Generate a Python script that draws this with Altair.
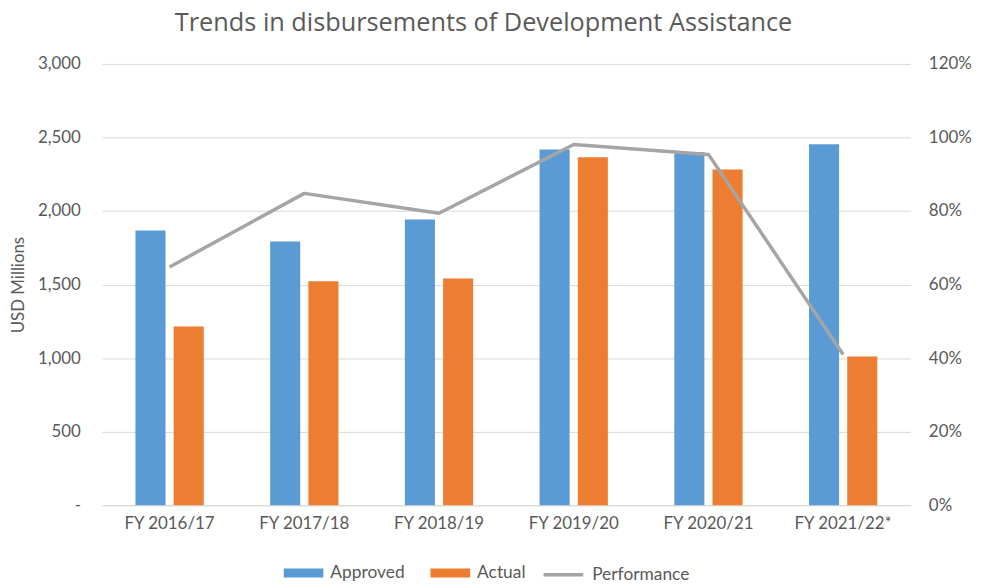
import altair as alt
import pandas as pd

years = ["FY 2016/17", "FY 2017/18", "FY 2018/19", "FY 2019/20", "FY 2020/21", "FY 2021/22*"]
approved = [1867, 1793, 1942, 2418, 2400, 2454]
actual = [1216, 1522, 1542, 2366, 2283, 1011]
performance = [0.648, 0.848, 0.794, 0.981, 0.954, 0.410]
bar_series = ["Approved", "Actual"]
bar_colors = ["#5B9BD5", "#ED7D31"]
line_series = ["Performance"]
line_colors = ["#A5A5A5"]
left_ticks = [0, 500, 1000, 1500, 2000, 2500, 3000]
right_ticks = [0, 0.2, 0.4, 0.6, 0.8, 1.0, 1.2]

bars_df = pd.DataFrame({
    "Year": years * 2,
    "Series": ["Approved"] * len(years) + ["Actual"] * len(years),
    "Value": approved + actual,
})
line_df = pd.DataFrame({
    "Year": years,
    "Series": ["Performance"] * len(years),
    "Value": performance,
})

FONT = "Lato"
TXT = "#595959"
GRID = "#D9D9D9"

fill_legend = alt.Legend(
    title=None, orient="none", direction="horizontal", legendX=183, legendY=493,
    symbolType="M-1,-0.225H1V0.225H-1Z", symbolSize=1600, symbolStrokeWidth=0,
    symbolOpacity=1,
    labelFontSize=17.5, labelFont=FONT, labelColor=TXT,
    columnPadding=26, labelOffset=7,
)
stroke_legend = alt.Legend(
    title=None, orient="none", direction="horizontal", legendX=443, legendY=493,
    symbolType="stroke", symbolSize=1600, symbolStrokeWidth=3.5,
    labelFontSize=17.5, labelFont=FONT, labelColor=TXT, labelOffset=7,
)

x_enc = alt.X(
    "Year:N", sort=years,
    scale=alt.Scale(paddingInner=0.493, paddingOuter=0.2465),
    axis=alt.Axis(title=None, labelAngle=0, labelFontSize=17, labelFont=FONT,
                  labelColor=TXT, labelPadding=10, ticks=False, domainColor=GRID,
                  domainWidth=1, grid=False),
)

bars = alt.Chart(bars_df).mark_bar().encode(
    x=x_enc,
    xOffset=alt.XOffset("Series:N", sort=bar_series,
                        scale=alt.Scale(paddingInner=0.213, paddingOuter=0)),
    y=alt.Y("Value:Q", scale=alt.Scale(domain=[0, 3000], nice=False),
            axis=alt.Axis(title="USD Millions", values=left_ticks,
                          labelExpr="datum.value == 0 ? '-\u2007\u2007' : format(datum.value, ',')",
                          grid=True, gridColor=GRID, domain=False, ticks=False,
                          labelPadding=22, labelFontSize=17, labelFont=FONT, labelColor=TXT,
                          titleFont=FONT, titleFontSize=17, titleFontWeight="normal",
                          titleColor=TXT, titlePadding=10)),
    fill=alt.Fill("Series:N", scale=alt.Scale(domain=bar_series, range=bar_colors),
                  legend=fill_legend),
)

line = alt.Chart(line_df).mark_line(strokeWidth=3.5, strokeJoin="round").encode(
    x=x_enc,
    y=alt.Y("Value:Q", scale=alt.Scale(domain=[0, 1.2], nice=False),
            axis=alt.Axis(title=None, orient="right", values=right_ticks, format=".0%",
                          grid=False, domain=False, ticks=False, labelPadding=18,
                          labelFontSize=17, labelFont=FONT, labelColor=TXT)),
    stroke=alt.Stroke("Series:N", scale=alt.Scale(domain=line_series, range=line_colors),
                      legend=stroke_legend),
)

chart = alt.layer(bars, line).resolve_scale(y="independent").properties(
    width=815, height=445,
    autosize=alt.AutoSizeParams(type="none"),
    padding={"left": 95, "top": 54, "right": 63, "bottom": 78},
    title=alt.TitleParams("Trends in disbursements of Development Assistance",
                          fontSize=25.5, font="Open Sans", fontWeight="normal", color=TXT,
                          anchor="middle", dx=-23, offset=19),
).configure_view(stroke=None)

chart.save("out.html", embed_options={"renderer": "svg", "actions": False})
